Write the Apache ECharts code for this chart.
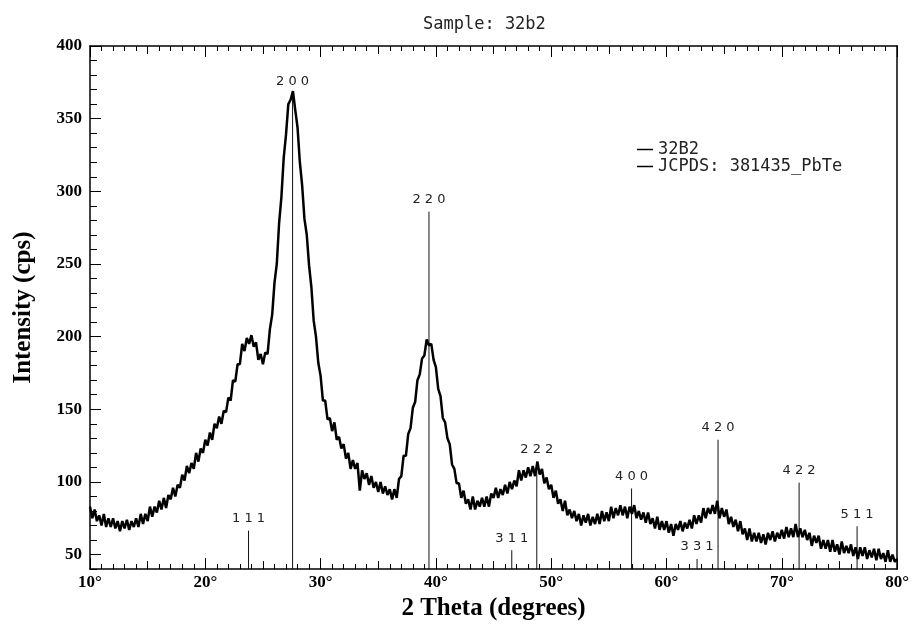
<!DOCTYPE html>
<html><head><meta charset="utf-8">
<script src="https://cdn.jsdelivr.net/npm/echarts@6.0.0/dist/echarts.min.js"></script>
<style>html,body{margin:0;padding:0;background:#fff}#chart{width:912px;height:626px}</style>
</head><body><div id="chart"></div>
<script>
const titleText = 'Sample: 32b2';
const sampleName = '32B2';
const refName = 'JCPDS: 381435_PbTe';
const xAxisTitle = '2 Theta (degrees)';
const yAxisTitle = 'Intensity (cps)';

// scan: 10° to 80°, step 0.2°
const scanStart = 10, scanStep = 0.2;
const intensity = [
  83,75,81,73,77,70,78,69,75,69,
  75,68,73,66,73,68,74,67,73,69,
  75,69,78,71,78,73,83,76,83,79,
  87,81,89,82,91,88,96,90,98,96,
  105,101,111,106,113,109,120,114,123,120,
  129,125,134,129,140,137,145,140,149,148,
  158,156,170,169,181,181,195,190,199,195,
  201,193,196,184,188,181,189,188,205,215,
  237,250,278,296,323,339,360,363,369,356,
  344,320,304,281,270,249,234,211,200,182,
  173,156,156,143,144,135,141,129,131,123,
  126,116,120,109,115,109,113,94,108,102,
  106,98,104,96,100,93,100,92,97,91,
  95,88,95,89,102,104,118,118,133,137,
  151,155,170,174,185,187,198,194,195,184,
  179,164,159,144,141,130,126,112,109,99,
  99,89,94,85,88,81,90,81,87,83,
  89,83,90,83,92,89,96,89,95,91,
  98,92,100,95,101,97,108,101,108,103,
  110,104,111,104,114,105,109,99,103,95,
  98,89,94,85,88,80,87,77,81,75,
  80,73,78,70,77,72,78,70,76,71,
  78,71,80,73,79,73,83,75,82,77,
  84,77,83,75,83,78,84,75,80,74,
  79,72,79,71,75,68,76,67,73,67,
  73,65,71,63,71,67,73,66,72,68,
  74,68,77,71,77,72,82,75,82,78,
  84,78,87,75,82,76,81,71,76,69,
  74,66,73,64,68,60,68,59,65,59,
  65,58,64,57,65,60,66,59,65,61,
  67,61,69,62,68,62,71,62,68,62,
  67,60,65,56,63,58,63,54,60,54,
  60,52,60,52,57,50,59,51,56,51,
  57,49,55,47,55,49,55,47,53,48,
  54,46,54,47,51,45,53,45,50,45,
  47
];

// JCPDS reference sticks
const hklLabels = ['1 1 1','2 0 0','2 2 0','3 1 1','2 2 2','4 0 0','3 3 1','4 2 0','4 2 2','5 1 1'];
const stickPos = [23.75, 27.57, 39.40, 46.58, 48.75, 56.97, 62.65, 64.47, 71.50, 76.53];
const stickHeight = [66.5, 367, 286, 53, 114, 95.5, 47, 129, 99.5, 69.5];

const yLabelValues = [50, 100, 150, 200, 250, 300, 350, 400];
const yMin = 40, yMax = 400;
const xMin = 10, xMax = 80;

const scanData = intensity.map((v, i) => [+(scanStart + i * scanStep).toFixed(2), v]);
const stickData = stickPos.map((x, i) => [x, stickHeight[i]]);

const serif = '"Liberation Serif", "Times New Roman", serif';
const mono = '"DejaVu Sans Mono", monospace';
const black = '#000';

const chart = echarts.init(document.getElementById('chart'), null, {renderer: 'canvas'});
chart.setOption({
  animation: false,
  backgroundColor: '#fff',
  title: {
    text: titleText, left: 418, top: 11,
    textStyle: {fontFamily: mono, fontSize: 17, fontWeight: 'normal', color: '#222'}
  },
  legend: {
    orient: 'vertical', left: 632, top: 136, itemWidth: 16, itemHeight: 1.5, itemGap: 0,
    icon: 'rect', data: [sampleName, refName],
    textStyle: {fontFamily: mono, fontSize: 17, color: '#222'}
  },
  grid: {left: 90, right: 14, top: 46, bottom: 54},
  xAxis: [
    {
      type: 'value', position: 'bottom', min: xMin, max: xMax, interval: 10,
      axisLine: {show: true, lineStyle: {color: black, width: 1.5}},
      axisTick: {show: true, inside: true, length: 11, lineStyle: {color: black}},
      minorTick: {show: true, splitNumber: 10, length: 5, lineStyle: {color: black}},
      splitLine: {show: false}, minorSplitLine: {show: false},
      axisLabel: {formatter: '{value}°', fontFamily: serif, fontWeight: 'bold', fontSize: 17, color: black, margin: 5},
      name: xAxisTitle, nameLocation: 'middle', nameGap: 22,
      nameTextStyle: {fontFamily: serif, fontWeight: 'bold', fontSize: 25, color: black}
    },
    {
      type: 'value', position: 'bottom', min: xMin, max: xMax, interval: 5,
      axisLine: {show: false}, axisTick: {show: true, inside: true, length: 8, lineStyle: {color: black}},
      axisLabel: {show: false}, splitLine: {show: false}
    },
    {
      type: 'value', position: 'top', min: xMin, max: xMax, interval: 10,
      axisLine: {show: true, lineStyle: {color: black, width: 1.5}},
      axisTick: {show: true, inside: true, length: 11, lineStyle: {color: black}},
      minorTick: {show: true, splitNumber: 10, length: 5, lineStyle: {color: black}},
      axisLabel: {show: false}, splitLine: {show: false}
    },
    {
      type: 'value', position: 'top', min: xMin, max: xMax, interval: 5,
      axisLine: {show: false}, axisTick: {show: true, inside: true, length: 8, lineStyle: {color: black}},
      axisLabel: {show: false}, splitLine: {show: false}
    }
  ],
  yAxis: [
    {
      type: 'value', position: 'left', min: yMin, max: yMax, interval: 10,
      axisLine: {show: true, lineStyle: {color: black, width: 1.5}},
      axisTick: {show: true, inside: true, length: 11, customValues: yLabelValues, lineStyle: {color: black}},
      axisLabel: {customValues: yLabelValues, fontFamily: serif, fontWeight: 'bold', fontSize: 17, color: black, margin: 8},
      splitLine: {show: false},
      name: yAxisTitle, nameLocation: 'middle', nameGap: 54, nameRotate: 90,
      nameTextStyle: {fontFamily: serif, fontWeight: 'bold', fontSize: 25, color: black}
    },
    {
      type: 'value', position: 'left', min: yMin, max: yMax, interval: 10,
      axisLine: {show: false}, axisTick: {show: true, inside: true, length: 7, lineStyle: {color: black}},
      axisLabel: {show: false}, splitLine: {show: false}
    },
    {
      type: 'value', position: 'right', min: yMin, max: yMax, interval: 10,
      axisLine: {show: true, lineStyle: {color: black, width: 1.5}},
      axisTick: {show: false}, axisLabel: {show: false}, splitLine: {show: false}
    }
  ],
  series: [
    {
      name: sampleName, type: 'line', xAxisIndex: 0, yAxisIndex: 0,
      data: scanData, symbol: 'none', lineStyle: {color: black, width: 2.5},
      itemStyle: {color: black}
    },
    {
      name: refName, type: 'custom', xAxisIndex: 0, yAxisIndex: 0,
      data: stickData, itemStyle: {color: black}, clip: false,
      encode: {x: 0, y: 1},
      renderItem: function (params, api) {
        const top = api.coord([api.value(0), api.value(1)]);
        const bot = api.coord([api.value(0), yMin]);
        return {
          type: 'group',
          children: [
            {type: 'line', shape: {x1: top[0], y1: top[1], x2: bot[0], y2: bot[1]},
             style: {stroke: '#111', lineWidth: 1}},
            {type: 'text', x: top[0], y: top[1] - 12,
             style: {text: hklLabels[params.dataIndex], align: 'center', verticalAlign: 'middle',
                     fill: '#222', fontFamily: '"DejaVu Sans", sans-serif', fontSize: 13}}
          ]
        };
      }
    }
  ]
});
</script>
</body></html>
